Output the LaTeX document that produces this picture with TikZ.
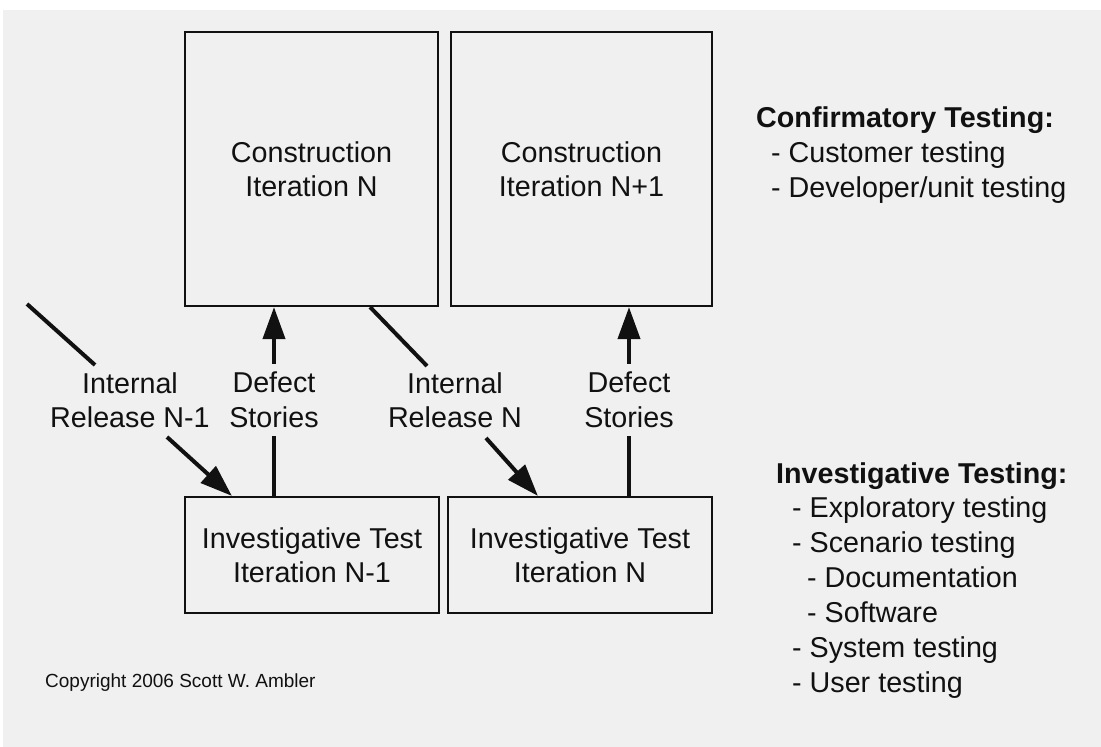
\documentclass[tikz,border=0pt]{standalone}
\usepackage{fontspec}
\setmainfont{Liberation Sans}
\usetikzlibrary{arrows.meta}
\definecolor{paper}{HTML}{F0F0F0}
\definecolor{ink}{HTML}{111111}
\tikzset{
  box/.style={draw=ink, line width=2.2pt, rectangle, inner sep=0pt, align=center,
    font=\fontsize{28.7}{34.5}\selectfont, text=ink},
  lbl/.style={inner sep=0pt, align=center, font=\fontsize{28.7}{34.5}\selectfont, text=ink},
  flow/.style={draw=ink, line width=4pt},
  arr/.style={flow, -{Triangle[length=32pt,width=22pt]}},
  listhead/.style={anchor=base west, inner sep=0pt, font=\fontsize{28.7}{34.5}\selectfont\bfseries, text=ink},
  listitem/.style={anchor=base west, inner sep=0pt, font=\fontsize{28.7}{34.5}\selectfont, text=ink},
}
\begin{document}
\begin{tikzpicture}[x=1pt, y=-1pt]
  % page and grey sheet
  \useasboundingbox (0,0) rectangle (1101,747);
  \fill[white] (0,0) rectangle (1101,747);
  \fill[paper] (3,10) rectangle (1101,747);

  % construction iterations
  \node[box, minimum width=253pt, minimum height=274pt] (c1) at (311.5,169) {Construction\\Iteration N};
  \node[box, minimum width=261pt, minimum height=274pt] (c2) at (581.5,169) {Construction\\Iteration N+1};

  % investigative test iterations
  \node[box, minimum width=254pt, minimum height=116pt] (i1) at (312,555) {Investigative Test\\Iteration N-1};
  \node[box, minimum width=264pt, minimum height=116pt] (i2) at (580,555) {Investigative Test\\Iteration N};

  % connector labels
  \node[lbl] (r1) at (130,400) {Internal\\Release N-1};
  \node[lbl, minimum height=72pt] (d1) at (274,400) {Defect\\Stories};
  \node[lbl] (r2) at (455,400) {Internal\\Release N};
  \node[lbl, minimum height=72pt] (d2) at (629,400) {Defect\\Stories};

  % defect stories feed back into the construction iterations
  \draw[flow] (i1.north -| d1) -- (d1.south);
  \draw[arr] (d1.north) -- (c1.south -| d1);
  \draw[flow] (i2.north -| d2) -- (d2.south);
  \draw[arr] (d2.north) -- (c2.south -| d2);

  % internal releases flow into the investigative tests
  \coordinate (p0) at (27,304);
  \coordinate (p1) at (95,365);
  \coordinate (p2) at (167,437);
  \draw[flow] (p0) -- (p1);
  \draw[arr] (p2) -- ([xshift=48pt]i1.north west);

  \coordinate (q1) at (427,366);
  \coordinate (q2) at (486,438);
  \draw[flow] ([xshift=-69pt]c1.south east) -- (q1);
  \draw[arr] (q2) -- ([xshift=91pt]i2.north west);

  % testing categories
  \node[listhead] (ch) at (756,127) {Confirmatory Testing:};
  \node[listitem] (c_a) at (771,162) {- Customer testing};
  \node[listitem] (c_b) at (771,197) {- Developer/unit testing};

  \node[listhead] (ih) at (776,483) {Investigative Testing:};
  \node[listitem] (i_a) at (792,517) {- Exploratory testing};
  \node[listitem] (i_b) at (792,552) {- Scenario testing};
  \node[listitem] (i_c) at (807,587) {- Documentation};
  \node[listitem] (i_d) at (807,622) {- Software};
  \node[listitem] (i_e) at (792,657) {- System testing};
  \node[listitem] (i_f) at (792,692) {- User testing};

  % copyright line
  \node[anchor=base west, inner sep=0pt, font=\fontsize{19}{22}\selectfont, text=ink] (cr) at (45,687) {Copyright 2006 Scott W. Ambler};
\end{tikzpicture}
\end{document}
